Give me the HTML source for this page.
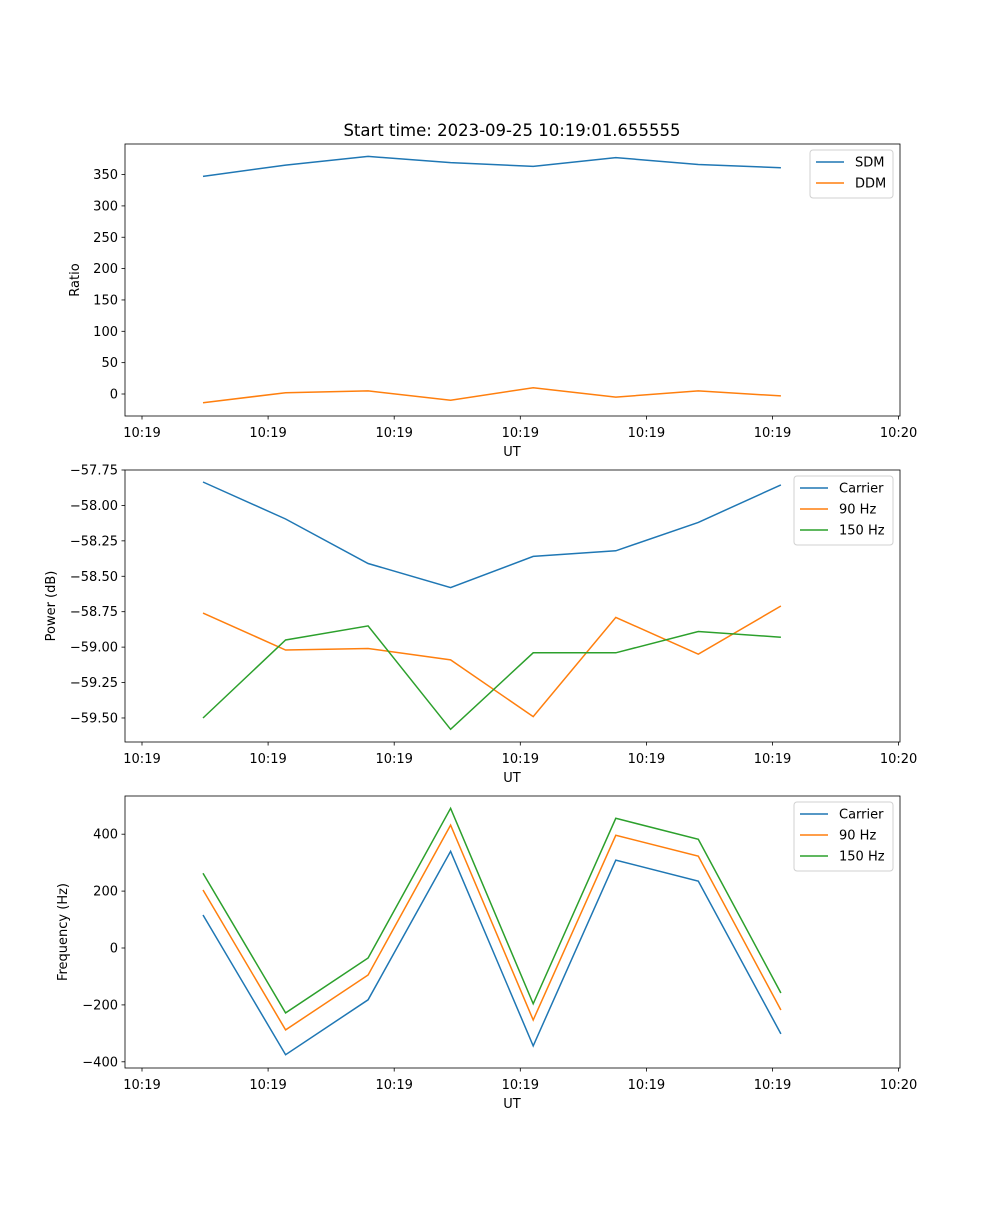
<!DOCTYPE html>
<html><head><meta charset="utf-8"><style>
body{margin:0;background:#fff}
svg text{font-family:"DejaVu Sans","Liberation Sans",sans-serif;fill:#000}
</style></head><body>
<svg id="fig" width="1000" height="1200" xmlns="http://www.w3.org/2000/svg">
<rect width="1000" height="1200" fill="#fff"/>
<text x="512" y="136" font-size="16.5" text-anchor="middle">Start time: 2023-09-25 10:19:01.655555</text>
</svg>
<script>
const xTickLabels = ["10:19","10:19","10:19","10:19","10:19","10:19","10:20"];
const sdm = [347,365,379,369,363,377,366,361];
const ddm = [-14,2,5,-10,10,-5,5,-3];
const pCarrier = [-57.835,-58.096,-58.41,-58.58,-58.36,-58.32,-58.12,-57.855];
const p90 = [-58.76,-59.02,-59.01,-59.09,-59.49,-58.79,-59.05,-58.71];
const p150 = [-59.50,-58.95,-58.85,-59.58,-59.04,-59.04,-58.89,-58.93];
const fCarrier = [116,-375,-182,340,-344,309,235,-302];
const f90 = [204,-288,-95,432,-253,396,323,-218];
const f150 = [263,-228,-35,491,-196,456,382,-158];
const ticks1 = [0,50,100,150,200,250,300,350];
const ticks2 = [-59.5,-59.25,-59.0,-58.75,-58.5,-58.25,-58.0,-57.75];
const ticks3 = [-400,-200,0,200,400];

const NS="http://www.w3.org/2000/svg";
const svg=document.getElementById('fig');
function mk(tag,attrs,parent){const e=document.createElementNS(NS,tag);for(const k in attrs)e.setAttribute(k,attrs[k]);(parent||svg).appendChild(e);return e;}
const L=125,R=900;
// x: data index i -> pixel
function xs(i){return 203+i*82.55;}
function xTick(j){return 142+j*126.1;}
const C={b:"#1f77b4",o:"#ff7f0e",g:"#2ca02c"};

function panel(name,top,ymap,ticks,fmt,ylabel,ylabelX,series,legend){
  const g=mk('g',{});
  
  
  const bot=top+272;
  series.forEach(s=>{
    const p=mk('polyline',{points:s.v.map((v,i)=>xs(i).toFixed(1)+','+ymap(v).toFixed(1)).join(' '),fill:'none',stroke:s.c,'stroke-width':1.5},g);
    
    
  });
  const fr=mk('rect',{x:L,y:top,width:R-L,height:272,fill:'none',stroke:'#000','stroke-width':0.8},g);
  
  
  ticks.forEach(t=>{
    const y=ymap(t);
    mk('line',{x1:L-3.5,x2:L,y1:y,y2:y,stroke:'#000','stroke-width':0.8},g);
    const tx=mk('text',{x:L-7,y:y+4.5,'font-size':13,'text-anchor':'end'},g);
    tx.textContent=fmt(t);
    
    
  });
  xTickLabels.forEach((lab,j)=>{
    const x=xTick(j);
    mk('line',{x1:x,x2:x,y1:bot,y2:bot+3.5,stroke:'#000','stroke-width':0.8},g);
    const tx=mk('text',{x:x,y:bot+21,'font-size':13,'text-anchor':'middle'},g);
    tx.textContent=lab;
    
    
  });
  const xl=mk('text',{x:512,y:bot+40,'font-size':13,'text-anchor':'middle'},g);
  xl.textContent='UT';
  
  
  const cy=top+136;
  const yl=mk('text',{x:ylabelX,y:cy,'font-size':13,'text-anchor':'middle',transform:`rotate(-90 ${ylabelX} ${cy})`},g);
  yl.textContent=ylabel;
  
  
  // legend
  const lg=mk('g',{},g);
  
  
  mk('rect',{x:legend.x,y:top+6,width:legend.w,height:series.length*21+6,rx:3,fill:'#fff',stroke:'#ccc','stroke-width':1,opacity:0.9},lg);
  series.forEach((s,k)=>{
    const yy=top+18+k*21;
    mk('line',{x1:legend.x+6,x2:legend.x+34,y1:yy,y2:yy,stroke:s.c,'stroke-width':1.5},lg);
    const t=mk('text',{x:legend.x+45,y:yy+4.5,'font-size':13},lg);
    t.textContent=s.label;
    
    
  });
}
panel('ratio-panel',144,v=>394-v*0.627,ticks1,t=>String(t),'Ratio',79,
  [{v:sdm,c:C.b,n:'sdm-line',label:'SDM'},{v:ddm,c:C.o,n:'ddm-line',label:'DDM'}],{x:810,w:83});
panel('power-panel',470,v=>470+(-57.75-v)*141.7,ticks2,t=>'\u2212'+Math.abs(t).toFixed(2),'Power (dB)',55,
  [{v:pCarrier,c:C.b,n:'carrier-power-line',label:'Carrier'},{v:p90,c:C.o,n:'90hz-power-line',label:'90 Hz'},{v:p150,c:C.g,n:'150hz-power-line',label:'150 Hz'}],{x:794,w:99});
panel('frequency-panel',796,v=>948-v*0.2845,ticks3,t=>(t<0?'\u2212':'')+Math.abs(t),'Frequency (Hz)',67,
  [{v:fCarrier,c:C.b,n:'carrier-frequency-line',label:'Carrier'},{v:f90,c:C.o,n:'90hz-frequency-line',label:'90 Hz'},{v:f150,c:C.g,n:'150hz-frequency-line',label:'150 Hz'}],{x:794,w:99});
</script>
</body></html>
